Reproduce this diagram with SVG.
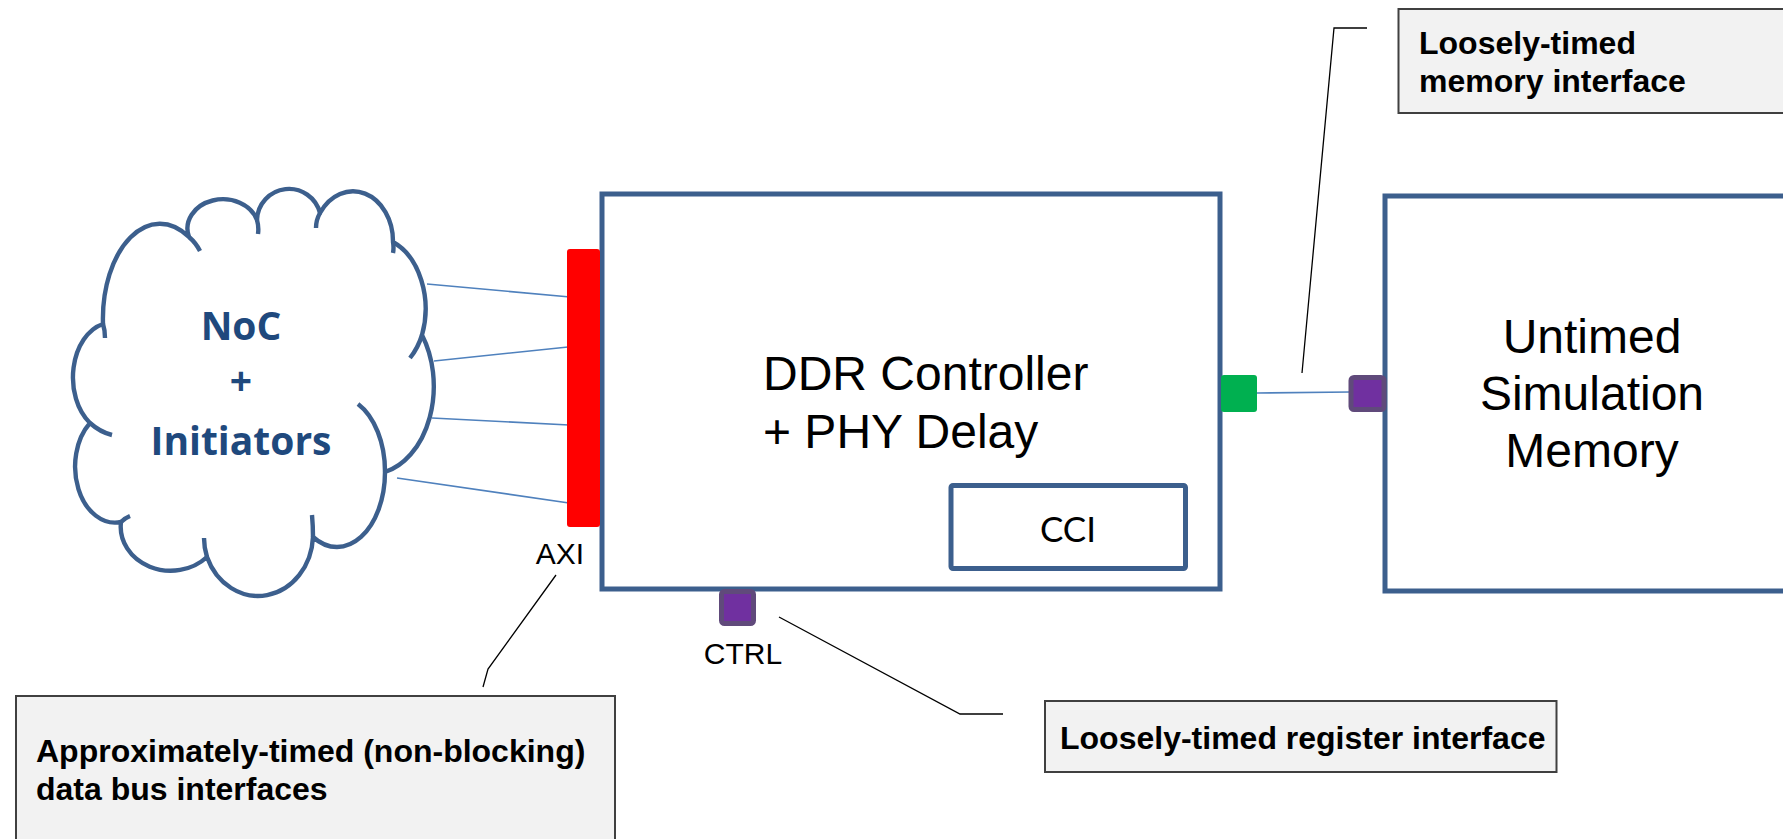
<svg xmlns="http://www.w3.org/2000/svg" width="1783" height="839" viewBox="0 0 1783 839">
  <style>
    .box { fill: #ffffff; stroke: #3C5F8D; stroke-width: 5; }
    .cloud { fill: #ffffff; stroke: #3C5F8D; stroke-width: 4.4; stroke-linejoin: round; }
    .tick { fill: none; stroke: #3C5F8D; stroke-width: 4.4; }
    .conn { fill: none; stroke: #4F81BD; stroke-width: 1.6; }
    .lead { fill: none; stroke: #000000; stroke-width: 1.3; }
    .callout { fill: #F2F2F2; stroke: #404040; stroke-width: 2; }
    .ct { font-family: "Liberation Sans", Arial, sans-serif; font-weight: bold; font-size: 32px; fill: #000000; }
    .big { font-family: "Liberation Sans", Arial, sans-serif; font-size: 48px; fill: #000000; }
    .lbl { font-family: "Liberation Sans", Arial, sans-serif; font-size: 30px; fill: #000000; }
    .noc { font-family: "Open Sans", "Liberation Sans", sans-serif; font-weight: bold; font-size: 39px; fill: #1F497D; }
    .purple { fill: #7030A0; stroke: #604A7B; stroke-width: 5; }
  </style>

  <g id="noc-cloud">
    <path class="cloud" d="M 103 324 A 57 95 0 0 1 189 237 A 34 28 0 0 1 257 220 A 32 32 0 0 1 320 213 A 40 50 0 0 1 393 242 A 52 72 0 0 1 422 335 A 63 88 0 0 1 385 472 A 48 75 0 0 1 313 537 A 55 62 0 0 1 207 557 A 50 44 0 0 1 121 522 A 40 56 0 0 1 90 423 A 39 55 0 0 1 103 324 Z"/>
    <path class="tick" d="M 103 324 Q 105 330 105 338 M 189 237 Q 196 243 200 251 M 257 220 Q 259 227 258 234 M 320 213 Q 316 220 316 228 M 393 242 Q 394 248 393 253 M 422 335 Q 418 348 410 358 M 358 404 A 48 75 0 0 1 385 472 M 313 537 Q 313 526 312 515 M 207 557 Q 204 547 204 538 M 121 522 Q 125 518 130 516 M 90 423 Q 100 432 112 435"/>
    <text class="noc" x="241" y="340" text-anchor="middle">NoC</text>
    <text class="noc" x="241" y="395" text-anchor="middle">+</text>
    <text class="noc" x="241" y="455" text-anchor="middle">Initiators</text>
  </g>

  <g id="connectors">
    <line class="conn" x1="427" y1="284" x2="570" y2="297"/>
    <line class="conn" x1="434" y1="361" x2="568" y2="347"/>
    <line class="conn" x1="432" y1="418" x2="569" y2="425"/>
    <line class="conn" x1="397" y1="478" x2="569" y2="503"/>
    <line class="conn" x1="1257" y1="393" x2="1350" y2="392"/>
    <polyline class="lead" points="556,575 488,669 483,687"/>
    <polyline class="lead" points="779,617 960,714 1003,714"/>
    <polyline class="lead" points="1302,373 1334,28 1367,28"/>
  </g>

  <g id="ddr-controller">
    <rect class="box" x="602" y="194" width="618" height="395"/>
    <text class="big" x="763" y="390">DDR Controller</text>
    <text class="big" x="763" y="448">+ PHY Delay</text>
  </g>

  <g id="cci">
    <rect class="box" x="951" y="485.5" width="234.5" height="83" rx="2"/>
    <text x="1068" y="542" text-anchor="middle" font-family="Lato, 'Liberation Sans', sans-serif" font-size="35" fill="#000000">CCI</text>
  </g>

  <g id="axi-port">
    <rect x="567" y="249" width="33" height="278" rx="3" fill="#FF0000"/>
    <text class="lbl" x="560" y="564" text-anchor="middle">AXI</text>
  </g>

  <g id="ctrl-port">
    <rect class="purple" x="721.5" y="591.5" width="32" height="32" rx="3"/>
    <text class="lbl" font-size="31" x="743" y="664" text-anchor="middle">CTRL</text>
  </g>

  <g id="mem-port-out">
    <rect x="1221" y="375" width="36" height="37" rx="3" fill="#00B050"/>
  </g>

  <g id="untimed-memory">
    <rect class="box" x="1385" y="196" width="430" height="395"/>
    <rect class="purple" x="1351" y="377.5" width="33" height="32" rx="3"/>
    <text class="big" font-size="47" x="1592" y="353" text-anchor="middle">Untimed</text>
    <text class="big" font-size="47" x="1592" y="410" text-anchor="middle">Simulation</text>
    <text class="big" font-size="47" x="1592" y="467" text-anchor="middle">Memory</text>
  </g>

  <g id="callout-memory">
    <rect class="callout" x="1398.5" y="9" width="420" height="104"/>
    <text class="ct" x="1419" y="54">Loosely-timed</text>
    <text class="ct" x="1419" y="92">memory interface</text>
  </g>

  <g id="callout-register">
    <rect class="callout" x="1045" y="701" width="511.5" height="71"/>
    <text class="ct" x="1060" y="749">Loosely-timed register interface</text>
  </g>

  <g id="callout-axi">
    <rect class="callout" x="16" y="696" width="599" height="170"/>
    <text class="ct" x="36" y="762">Approximately-timed (non-blocking)</text>
    <text class="ct" x="36" y="800">data bus interfaces</text>
  </g>
</svg>
